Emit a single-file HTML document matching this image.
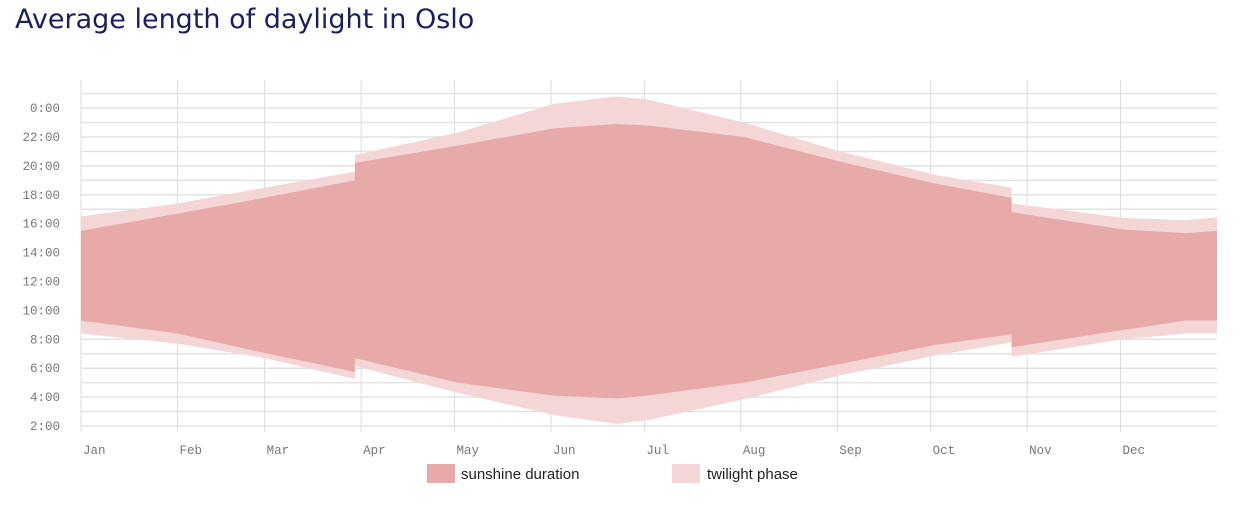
<!DOCTYPE html>
<html><head><meta charset="utf-8"><style>
body{margin:0;background:#fff;width:1240px;height:518px;overflow:hidden;font-family:"Liberation Sans",sans-serif}
#title{position:absolute;left:15px;top:4px;font-size:27px;color:#1b1f5a;font-family:"DejaVu Sans","Liberation Sans",sans-serif}
svg{position:absolute;left:0;top:0}
</style></head><body>
<div id="title">Average length of daylight in Oslo</div>
<svg id="c" width="1240" height="518"></svg>
<script>
const days=[0,31,59,88,88,121,152,172,182,213,244,274,299,299,335,355,365];
const sunset=[15.5,16.7,17.8,19.0,20.2,21.4,22.6,22.9,22.8,22.0,20.3,18.8,17.8,16.8,15.6,15.35,15.5];
const sunrise=[9.3,8.4,7.05,5.75,6.7,5.0,4.1,3.9,4.1,5.0,6.3,7.6,8.35,7.45,8.65,9.3,9.3];
const dusk=[16.5,17.4,18.5,19.6,20.75,22.3,24.3,24.8,24.6,23.0,21.0,19.4,18.5,17.4,16.4,16.25,16.45];
const dawn=[8.4,7.7,6.7,5.25,6.15,4.3,2.75,2.15,2.4,3.85,5.5,6.85,7.8,6.8,8.0,8.4,8.4];
const months=['Jan','Feb','Mar','Apr','May','Jun','Jul','Aug','Sep','Oct','Nov','Dec'];
const monthStart=[0,31,59,90,120,151,181,212,243,273,304,334];
const yTicks=[24,22,20,18,16,14,12,10,8,6,4,2];
const NS='http://www.w3.org/2000/svg';
const svg=document.getElementById('c');
const x=d=>81+d*(1217-81)/365;
const y=h=>426-(h-2)*14.45;
function mk(t,a){const e=document.createElementNS(NS,t);for(const k in a)e.setAttribute(k,a[k]);svg.appendChild(e);return e;}
for(let h=2;h<=25;h++){const l=mk('line',{x1:81,x2:1217,y1:y(h),y2:y(h),stroke:'#e2e2e2','stroke-width':1.5});

}
monthStart.forEach((d,i)=>{const l=mk('line',{x1:x(d),x2:x(d),y1:80,y2:432,stroke:'#e0dada','stroke-width':1});


const t=mk('text',{x:x(d)+2,y:454,'font-size':12.5,fill:'#777','font-family':'Liberation Mono,monospace'});t.textContent=months[i];

});
yTicks.forEach(h=>{const t=mk('text',{x:60,y:y(h)+4,'font-size':12.5,fill:'#777','text-anchor':'end','font-family':'Liberation Mono,monospace'});t.textContent=(h%24)+':00';

});
function area(top,bot,fill,name){let p=days.map((d,i)=>x(d)+','+y(top[i]));for(let i=days.length-1;i>=0;i--)p.push(x(days[i])+','+y(bot[i]));
const e=mk('polygon',{points:p.join(' '),fill:fill});

}
area(dusk,dawn,'#f4d6d6','twilight-area');
area(sunset,sunrise,'#e8aaa8','sunshine-area');
const r1=mk('rect',{x:427,y:464,width:28,height:19,fill:'#e8aaa8'});


const t1=mk('text',{x:461,y:479,'font-size':15,fill:'#222'});t1.textContent='sunshine duration';


const r2=mk('rect',{x:672,y:464,width:28,height:19,fill:'#f4d6d6'});


const t2=mk('text',{x:707,y:479,'font-size':15,fill:'#222'});t2.textContent='twilight phase';


</script>
</body></html>
